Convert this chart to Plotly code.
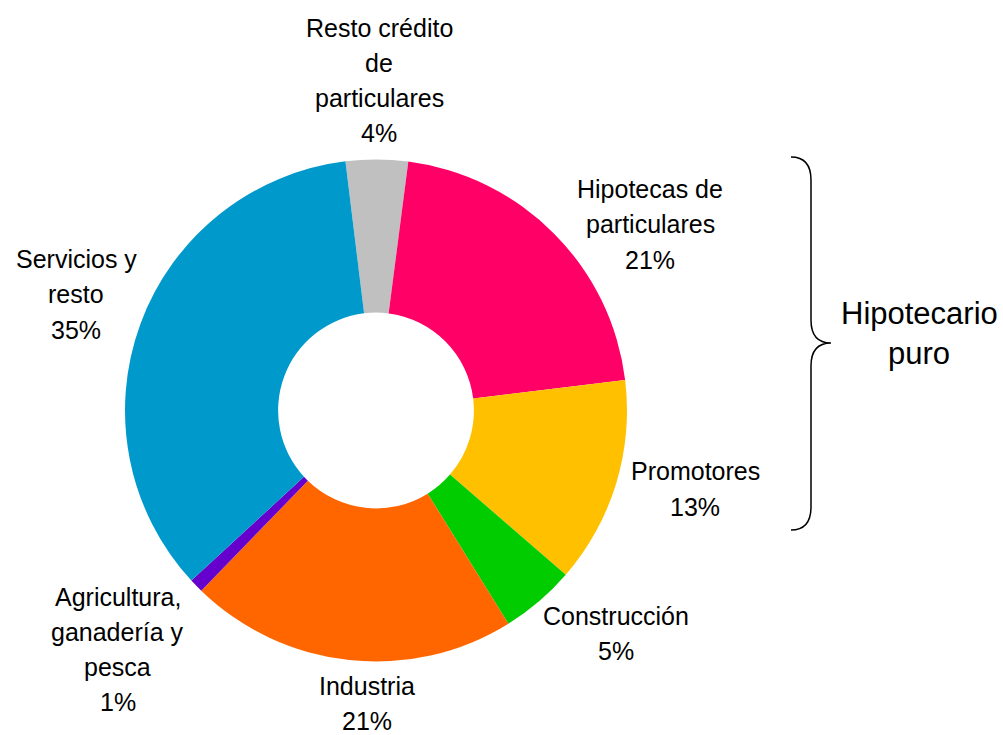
import plotly.graph_objects as go

# ---------------- data ----------------
categories = [
    "Resto crédito de particulares",
    "Hipotecas de particulares",
    "Promotores",
    "Construcción",
    "Industria",
    "Agricultura, ganadería y pesca",
    "Servicios y resto",
]
shares = [4.0, 21.0, 13.3, 4.8, 21.1, 0.9, 34.9]
label_lines = [
    ["Resto crédito", "de", "particulares"],
    ["Hipotecas de", "particulares"],
    ["Promotores"],
    ["Construcción"],
    ["Industria"],
    ["Agricultura,", "ganadería y", "pesca"],
    ["Servicios y", "resto"],
]
colors = ["#C0C0C0", "#FF0066", "#FFC000", "#00CC00", "#FF6600", "#6600CC", "#0099CC"]
group_label = ["Hipotecario", "puro"]

# ---------------- layout constants (pixels) ----------------
W, H = 1003, 735
FONT = "Liberation Sans, Arial, sans-serif"
# label anchors: (center x, first line center y)
label_pos = [(379, 27.5), (650, 189), (695, 471.5), (616, 616),
             (367, 686), (117.5, 596.5), (76, 259)]
LINE_STEP = 35.3


def px(x, y):
    return x / W, 1 - y / H


fig = go.Figure()
fig.add_trace(go.Pie(
    labels=categories,
    values=shares,
    sort=False,
    direction="clockwise",
    rotation=-7,
    hole=0.39,
    marker=dict(colors=colors, line=dict(width=0)),
    textinfo="none",
    showlegend=False,
    domain=dict(x=[125 / W, 627 / W], y=[1 - 662 / H, 1 - 159 / H]),
))

annotations = []
for lines, v, (cx, cy) in zip(label_lines, shares, label_pos):
    all_lines = lines + [f"{round(v)}%"]
    for i, t in enumerate(all_lines):
        x, y = px(cx, cy + i * LINE_STEP)
        annotations.append(dict(
            x=x, y=y, xref="paper", yref="paper", text=t, showarrow=False,
            xanchor="center", yanchor="middle",
            font=dict(family=FONT, size=25, color="#000000"),
        ))

for i, t in enumerate(group_label):
    x, y = px(919, 313 + i * 40)
    annotations.append(dict(
        x=x, y=y, xref="paper", yref="paper", text=t, showarrow=False,
        xanchor="center", yanchor="middle",
        font=dict(family=FONT, size=31, color="#000000"),
    ))

# curly brace
pts = [
    ("M", [(791, 157)]),
    ("Q", [(811, 157), (811, 180)]),
    ("L", [(811, 320)]),
    ("Q", [(811, 343), (831, 343)]),
    ("Q", [(811, 343), (811, 366)]),
    ("L", [(811, 507)]),
    ("Q", [(811, 530), (791, 530)]),
]
path = ""
for cmd, ps in pts:
    path += cmd + " " + " ".join(f"{px(a, b)[0]:.5f},{px(a, b)[1]:.5f}" for a, b in ps) + " "

fig.update_layout(
    width=W, height=H,
    margin=dict(l=0, r=0, t=0, b=0),
    paper_bgcolor="white", plot_bgcolor="white",
    annotations=annotations,
    shapes=[dict(type="path", xref="paper", yref="paper", path=path.strip(),
                 line=dict(color="black", width=1.5))],
)

fig.write_html(
    "out.html",
    config={"displayModeBar": False},
    post_script="document.body.style.margin='0';document.body.style.overflow='hidden';",
)
